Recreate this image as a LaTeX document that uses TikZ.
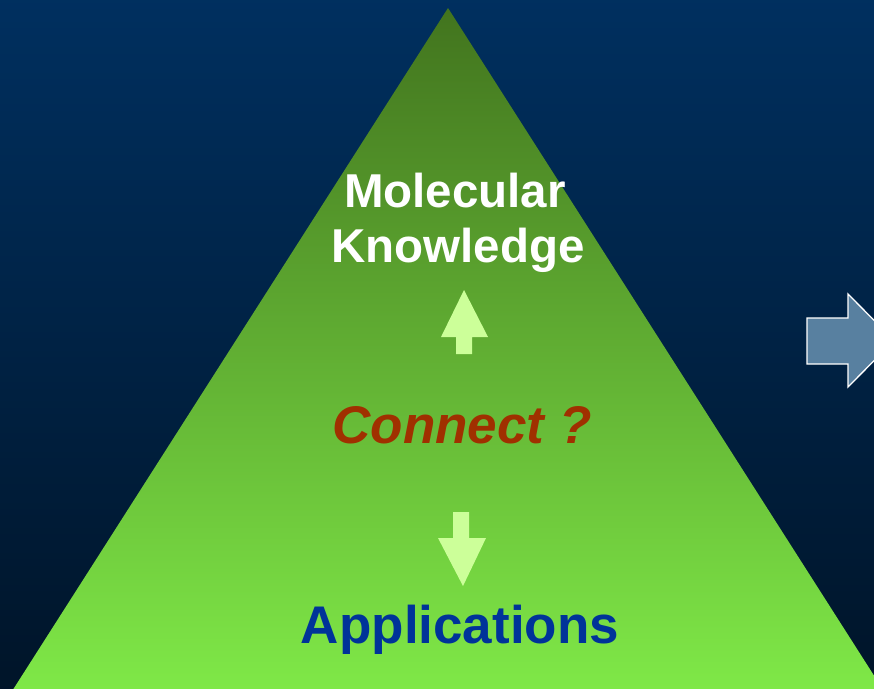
\documentclass[tikz,border=0pt]{standalone}
\usepackage{fontspec}
\setmainfont{Liberation Sans}
\definecolor{bgtop}{RGB}{0,48,96}
\definecolor{bgbot}{RGB}{0,20,40}
\definecolor{tritop}{RGB}{66,116,30}
\definecolor{tribot}{RGB}{128,234,72}
\definecolor{pale}{RGB}{204,255,153}
\definecolor{connred}{RGB}{160,48,0}
\definecolor{appblue}{RGB}{0,51,153}
\definecolor{steel}{RGB}{88,128,160}
\tikzset{
  lbl/.style={inner sep=0pt, anchor=base, font=\bfseries},
  paleshape/.style={fill=pale, draw=none},
}
\begin{document}
\begin{tikzpicture}[x=1pt,y=-1pt]
\useasboundingbox (0,0) rectangle (874,688);
\shade[top color=bgtop, bottom color=bgbot] (-10,-10) rectangle (884,698);
\shade[top color=tritop, bottom color=tribot] (448,8) -- (6.4,700) -- (889.6,700) -- cycle;
% right block arrow
\draw[fill=steel, draw=white, line width=1.3pt, line join=miter]
  (807,318) -- (848,318) -- (848,294) -- (894,340.5) -- (848,387) -- (848,364) -- (807,364) -- cycle;
% up arrow
\fill[paleshape] (464,290) -- (488,337) -- (472,337) -- (472,354) -- (456,354) -- (456,337) -- (441,337) -- cycle;
% down arrow
\fill[paleshape] (453,512) -- (469,512) -- (469,538) -- (486,538) -- (463,586) -- (438,538) -- (453,538) -- cycle;
% texts
\node[lbl, text=white, font=\fontsize{47.5}{55}\selectfont\bfseries] (mol) at (455,207) {Molecular};
\node[lbl, text=white, font=\fontsize{47.5}{55}\selectfont\bfseries] (know) at (458,262) {Knowledge};
\node[lbl, text=connred, font=\fontsize{53}{60}\selectfont\bfseries\itshape] (conn) at (462,443) {Connect ?};
\node[lbl, text=appblue, font=\fontsize{53}{60}\selectfont\bfseries] (app) at (460,643) {Applications};
\end{tikzpicture}
\end{document}
